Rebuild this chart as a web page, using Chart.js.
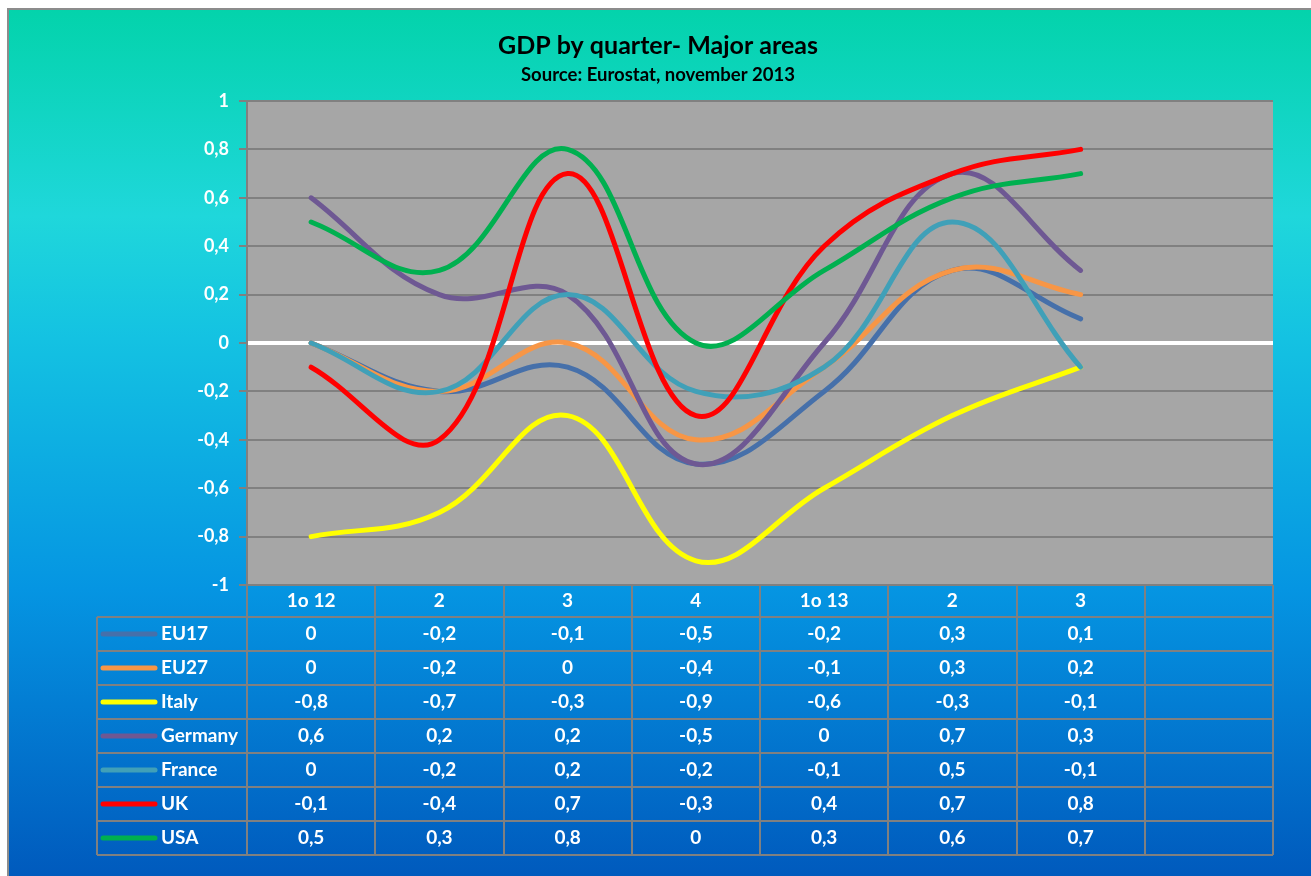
<!DOCTYPE html>
<html lang="en">
<head>
    <meta charset="UTF-8">
    <title>GDP by quarter - Major areas</title>
    <script src="https://cdn.jsdelivr.net/npm/chart.js"></script>
    <style>
        html, body { margin: 0; padding: 0; background: #fff; }
        #wrap { width: 1311px; height: 876px; }
    </style>
</head>
<body>
    <div id="wrap"><canvas id="myChart"></canvas></div>
    <script>
        // quarters (last column is empty in the original)
        const labels = ['1o 12', '2', '3', '4', '1o 13', '2', '3', ''];

        const eu17    = [0, -0.2, -0.1, -0.5, -0.2, 0.3, 0.1];
        const eu27    = [0, -0.2, 0, -0.4, -0.1, 0.3, 0.2];
        const italy   = [-0.8, -0.7, -0.3, -0.9, -0.6, -0.3, -0.1];
        const germany = [0.6, 0.2, 0.2, -0.5, 0, 0.7, 0.3];
        const france  = [0, -0.2, 0.2, -0.2, -0.1, 0.5, -0.1];
        const uk      = [-0.1, -0.4, 0.7, -0.3, 0.4, 0.7, 0.8];
        const usa     = [0.5, 0.3, 0.8, 0, 0.3, 0.6, 0.7];

        const names  = ['EU17', 'EU27', 'Italy', 'Germany', 'France', 'UK', 'USA'];
        const series = [eu17, eu27, italy, germany, france, uk, usa];
        const colors = ['#4670AA', '#F79646', '#FFFF00', '#6E5893', '#40A0B8', '#FF0000', '#00B050'];

        const FONT = "Lato, 'Open Sans', sans-serif";
        const fmt = v => String(Math.round(v * 10) / 10).replace('.', ',');

        // background, frame, plot area and titles
        const backdrop = {
            id: 'backdrop',
            beforeDraw(chart) {
                const c = chart.ctx, a = chart.chartArea;
                c.save();
                c.fillStyle = '#fff';
                c.fillRect(0, 0, chart.width, chart.height);
                const g = c.createLinearGradient(0, 8, 0, chart.height);
                g.addColorStop(0, '#03D3AB');
                g.addColorStop(0.24, '#1FD7DB');
                g.addColorStop(0.38, '#14C2E2');
                g.addColorStop(0.67, '#0595E2');
                g.addColorStop(1, '#005ABD');
                c.fillStyle = g;
                c.fillRect(7, 8, chart.width - 7, chart.height - 8);
                c.strokeStyle = '#8C8C8C';
                c.lineWidth = 2;
                c.strokeRect(8, 9, chart.width, chart.height);
                c.fillStyle = '#A6A6A6';
                c.fillRect(a.left, a.top, a.right - a.left, a.bottom - a.top);

                c.fillStyle = '#000';
                c.textAlign = 'center';
                c.textBaseline = 'middle';
                c.font = 'bold 25px ' + FONT;
                c.fillText('GDP by quarter- Major areas', 658, 46);
                c.font = 'bold 18.5px ' + FONT;
                c.fillText('Source: Eurostat, november 2013', 658, 75);
                c.restore();
            }
        };

        // data table under the plot, using the x scale for the columns
        const dataTable = {
            id: 'dataTable',
            afterDraw(chart) {
                const c = chart.ctx, x = chart.scales.x;
                const colW = (x.right - x.left) / labels.length;
                const top = chart.chartArea.bottom;
                const headH = 32, rowH = 34;
                const legL = 97;
                const bottom = top + headH + rowH * names.length;
                c.save();
                c.strokeStyle = '#808080';
                c.lineWidth = 2;
                c.beginPath();
                for (let i = 0; i <= labels.length; i++) {
                    const px = Math.round(x.left + i * colW);
                    c.moveTo(px, top);
                    c.lineTo(px, bottom);
                }
                c.moveTo(legL, top + headH);
                c.lineTo(legL, bottom);
                for (let r = 0; r <= names.length; r++) {
                    const py = top + headH + r * rowH;
                    c.moveTo(legL, py);
                    c.lineTo(x.right, py);
                }
                c.stroke();

                c.fillStyle = '#fff';
                c.textBaseline = 'middle';
                c.font = 'bold 19px ' + FONT;
                c.textAlign = 'center';
                labels.forEach((l, i) => c.fillText(l, x.getPixelForValue(i), top + headH / 2));
                names.forEach((n, r) => {
                    const cy = top + headH + r * rowH + rowH / 2;
                    c.strokeStyle = colors[r];
                    c.lineWidth = 5;
                    c.lineCap = 'round';
                    c.beginPath();
                    c.moveTo(legL + 6, cy);
                    c.lineTo(legL + 58, cy);
                    c.stroke();
                    c.fillStyle = '#fff';
                    c.textAlign = 'left';
                    c.fillText(n, legL + 64, cy);
                    c.textAlign = 'center';
                    series[r].forEach((v, i) => c.fillText(fmt(v), x.getPixelForValue(i), cy));
                });
                c.restore();
            }
        };

        const ctx = document.getElementById('myChart').getContext('2d');
        new Chart(ctx, {
            type: 'line',
            data: {
                labels: labels,
                datasets: series.map((d, i) => ({
                    label: names[i],
                    data: d,
                    borderColor: colors[i],
                    borderWidth: 5,
                    borderCapStyle: 'round',
                    borderJoinStyle: 'round',
                    tension: 0.4,
                    pointRadius: 0,
                    fill: false,
                    order: series.length - i
                }))
            },
            options: {
                responsive: true,
                maintainAspectRatio: false,
                animation: false,
                layout: { padding: { left: 97, top: 101, right: 38, bottom: 291 } },
                plugins: {
                    legend: { display: false },
                    tooltip: { enabled: false }
                },
                scales: {
                    x: {
                        display: false,
                        offset: true
                    },
                    y: {
                        min: -1,
                        max: 1,
                        afterFit(scale) { scale.width = 150; },
                        border: { display: true, color: '#808080', width: 2 },
                        grid: {
                            color: c => c.tick && c.tick.value === 0 ? '#FFFFFF' : '#808080',
                            lineWidth: c => c.tick && c.tick.value === 0 ? 4 : 2,
                            tickColor: '#808080',
                            tickLength: 8,
                            tickWidth: 2
                        },
                        ticks: {
                            stepSize: 0.2,
                            color: '#fff',
                            padding: 10,
                            font: { family: FONT, size: 18, weight: 'bold' },
                            callback: v => fmt(v)
                        }
                    }
                }
            },
            plugins: [backdrop, dataTable]
        });
    </script>
</body>
</html>
